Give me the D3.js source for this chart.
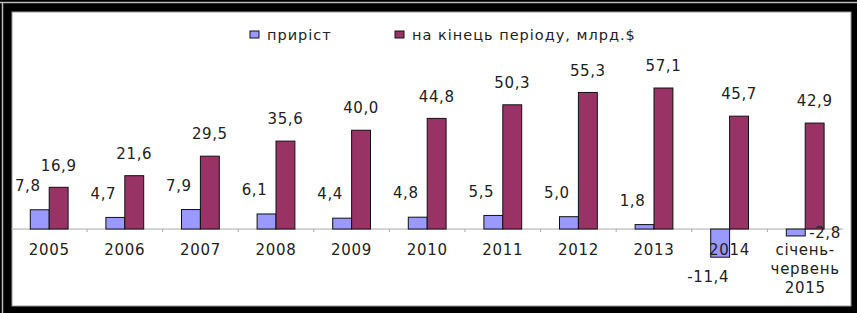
<!DOCTYPE html>
<html>
<head>
<meta charset="utf-8">
<script src="https://cdn.jsdelivr.net/npm/d3@7"></script>
<style>
  body { margin: 0; background: #000; }
  text { font-family: "DejaVu Sans", Verdana, sans-serif; fill: #222; }
</style>
</head>
<body>
<div class="chart"></div>
<script>
// categories and series
const categories = ["2005", "2006", "2007", "2008", "2009", "2010", "2011", "2012", "2013", "2014", "січень-\nчервень\n2015"]
const growth = [7.8, 4.7, 7.9, 6.1, 4.4, 4.8, 5.5, 5.0, 1.8, -11.4, -2.8]
const endOfPeriod = [16.9, 21.6, 29.5, 35.6, 40.0, 44.8, 50.3, 55.3, 57.1, 45.7, 42.9]
const seriesNames = ["приріст", "на кінець періоду, млрд.$"]
const seriesColors = ["#9999ff", "#993366"]

const W = 857, H = 313
const fmt = v => v.toFixed(1).replace(".", ",")

const svg = d3.select(".chart").append("svg")
    .attr("width", W).attr("height", H)

// frame
svg.append("rect").attr("width", W).attr("height", H).attr("fill", "#000")
svg.append("line").attr("x1", 0).attr("x2", W).attr("y1", 2.5).attr("y2", 2.5)
    .attr("stroke", "#bbb").attr("stroke-width", 1.5)
svg.append("line").attr("x1", 2.5).attr("x2", 2.5).attr("y1", 2).attr("y2", H)
    .attr("stroke", "#bbb").attr("stroke-width", 1.5)
svg.append("rect").attr("x", 12).attr("y", 12).attr("width", 839).attr("height", 294)
    .attr("fill", "#fff").attr("stroke", "#999")

const x = d3.scaleBand().domain(categories).range([11.4, 843]).paddingInner(0).paddingOuter(0)
const inner = d3.scaleBand().domain([0, 1]).range([x.bandwidth() / 4, x.bandwidth() * 3 / 4])
const y = d3.scaleLinear().domain([-11.4, 57.1]).range([257.2, 88])

// axis
const axis = svg.append("g").attr("transform", "translate(0," + y(0) + ")")
axis.append("line").attr("x1", x.range()[0]).attr("x2", x.range()[1])
    .attr("stroke", "#aaa").attr("stroke-width", 1)
axis.selectAll(".tk").data(categories.slice(1)).enter().append("line")
    .attr("x1", d => x(d)).attr("x2", d => x(d)).attr("y1", 0).attr("y2", 3)
    .attr("stroke", "#aaa")

// bars
const series = [growth, endOfPeriod]
series.forEach((vals, s) => {
    svg.append("g").selectAll("rect").data(vals).enter().append("rect")
        .attr("x", (d, i) => x(categories[i]) + inner(s))
        .attr("width", inner.bandwidth())
        .attr("y", d => y(Math.max(0, d)))
        .attr("height", d => Math.abs(y(d) - y(0)))
        .attr("fill", seriesColors[s])
        .attr("stroke", "#111").attr("stroke-width", 1)
})

// labels: end of period
svg.append("g").selectAll("text").data(endOfPeriod).enter().append("text")
    .attr("x", (d, i) => x(categories[i]) + inner(1) + inner.bandwidth() / 2)
    .attr("y", d => y(d) - 22)
    .attr("dy", "0.35em")
    .attr("text-anchor", "middle")
    .style("font-size", "15px").style("letter-spacing", "0.6px")
    .text(fmt)

// labels: growth
const small = d => d < 0 && d > -5
svg.append("g").selectAll("text").data(growth).enter().append("text")
    .attr("x", (d, i) => small(d)
        ? x(categories[i]) + inner(1) + 4
        : x(categories[i]) + inner(0) + inner.bandwidth() / 2 - 12)
    .attr("y", d => d >= 0 ? y(d) - 24 : (small(d) ? y(d) - 3 : y(d) + 20))
    .attr("dy", "0.35em")
    .attr("text-anchor", d => small(d) ? "start" : "middle")
    .style("font-size", "15px").style("letter-spacing", "0.6px")
    .text(fmt)

// category labels
const cat = svg.append("g").selectAll("text").data(categories).enter().append("text")
    .attr("x", d => x(d) + x.bandwidth() / 2)
    .attr("y", 250)
    .attr("text-anchor", "middle")
    .style("font-size", "15px").style("letter-spacing", "0.7px")
cat.selectAll("tspan").data(d => d.split("\n")).enter().append("tspan")
    .attr("x", function () { return d3.select(this.parentNode).attr("x") })
    .attr("dy", (d, i) => i === 0 ? "0.35em" : "19px")
    .text(d => d)

// legend
const legend = svg.append("g")
const legX = [250, 395]
seriesNames.forEach((name, s) => {
    legend.append("rect").attr("x", legX[s]).attr("y", 31).attr("width", 9).attr("height", 7)
        .attr("fill", seriesColors[s]).attr("stroke", "#111")
    legend.append("text").attr("x", legX[s] + 17).attr("y", 35).attr("dy", "0.35em")
        .style("font-size", "14.5px").style("letter-spacing", "1px").text(name)
})
</script>
</body>
</html>
